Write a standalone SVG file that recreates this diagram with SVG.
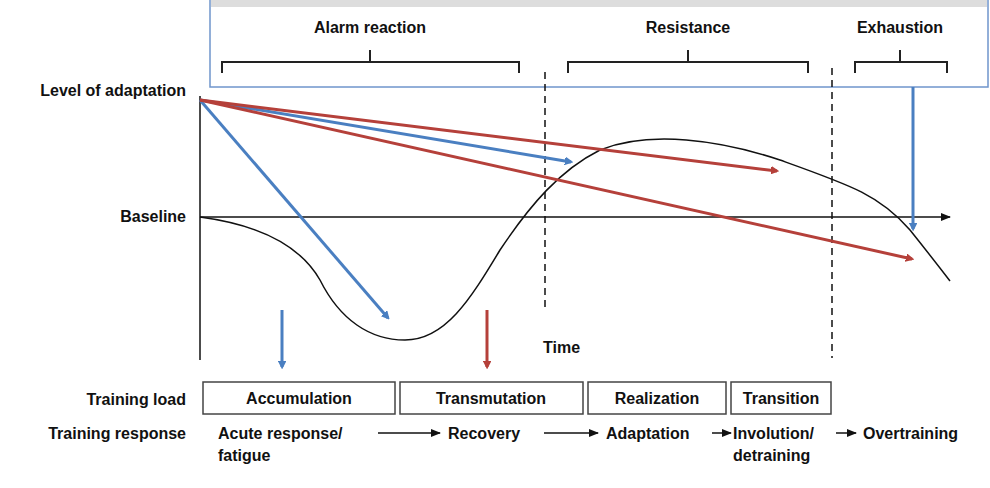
<svg xmlns="http://www.w3.org/2000/svg" width="990" height="488" viewBox="0 0 990 488">
<style>
text{font-family:"Liberation Sans",Arial,sans-serif;font-size:16px;font-weight:bold;fill:#111}
.br{fill:none;stroke:#222;stroke-width:2}
.bx{fill:#fff;stroke:#444;stroke-width:1.5}
.blue{stroke:#4a7fc1;stroke-width:3;fill:none}
.red{stroke:#b5403a;stroke-width:3;fill:none}
.k{stroke:#111;stroke-width:1.5;fill:none}
</style>
<defs>
<marker id="mb" markerWidth="8" markerHeight="8" refX="6" refY="4" orient="auto" markerUnits="userSpaceOnUse"><path d="M0,0 L8,4 L0,8 z" fill="#4a7fc1" transform="scale(1.3) translate(-1.5,-1)"/></marker>
<marker id="mr" markerWidth="8" markerHeight="8" refX="6" refY="4" orient="auto" markerUnits="userSpaceOnUse"><path d="M0,0 L8,4 L0,8 z" fill="#b5403a" transform="scale(1.3) translate(-1.5,-1)"/></marker>
<marker id="mk" markerWidth="10" markerHeight="10" refX="9" refY="5" orient="auto" markerUnits="userSpaceOnUse"><path d="M0,1 L10,5 L0,9 z" fill="#111"/></marker>
</defs>
<rect width="990" height="488" fill="#fff"/>
<g id="phases">
<rect x="210" y="-2" width="778" height="89" fill="#fff" stroke="#6f95cc" stroke-width="1.5"/>
<rect x="211" y="0" width="776" height="7" fill="#ddd"/>
<text x="370" y="33" text-anchor="middle">Alarm reaction</text>
<text x="688" y="33" text-anchor="middle">Resistance</text>
<text x="900" y="33" text-anchor="middle">Exhaustion</text>
<path class="br" d="M222,73 V62 H519 V73 M370,62 V50"/>
<path class="br" d="M568,73 V62 H808 V73 M688,62 V50"/>
<path class="br" d="M855,73 V62 H947 V73 M900,62 V50"/>
</g>
<g id="axes">
<text x="186" y="96" text-anchor="end">Level of adaptation</text>
<text x="186" y="222" text-anchor="end">Baseline</text>
<text x="543" y="353">Time</text>
<path class="k" d="M200,96 V360"/>
<path class="k" d="M200,217 H950" marker-end="url(#mk)"/>
<path stroke="#111" stroke-width="1.5" stroke-dasharray="7,5" d="M545,72 V312 M832,68 V358"/>
<path class="k" d="M200,217 C260,225 300,245 320,280 C340,320 370,340 405,340 C445,340 470,300 500,250 C530,205 560,170 600,150 C650,130 720,140 780,160 C850,185 880,195 910,230 C930,255 940,268 950,281"/>
</g>
<g id="connectors">
<path class="blue" d="M200,100 L388,318" marker-end="url(#mb)"/>
<path class="blue" d="M200,100 L571,162" marker-end="url(#mb)"/>
<path class="red" d="M200,100 L777,171" marker-end="url(#mr)"/>
<path class="red" d="M200,100 L912,259" marker-end="url(#mr)"/>
<path class="blue" d="M913,87 V229" marker-end="url(#mb)"/>
<path class="blue" d="M282,310 V367" marker-end="url(#mb)"/>
<path class="red" d="M487,310 V367" marker-end="url(#mr)"/>
</g>
<g id="load">
<text x="186" y="405" text-anchor="end">Training load</text>
<rect class="bx" x="203" y="382" width="192" height="32"/><text x="299" y="404" text-anchor="middle">Accumulation</text>
<rect class="bx" x="400" y="382" width="183" height="32"/><text x="491" y="404" text-anchor="middle">Transmutation</text>
<rect class="bx" x="588" y="382" width="138" height="32"/><text x="657" y="404" text-anchor="middle">Realization</text>
<rect class="bx" x="731" y="382" width="100" height="32"/><text x="781" y="404" text-anchor="middle">Transition</text>
</g>
<g id="response">
<text x="186" y="439" text-anchor="end">Training response</text>
<text x="218" y="439">Acute response/</text>
<text x="218" y="461">fatigue</text>
<path class="k" d="M378,433 H440" marker-end="url(#mk)"/>
<text x="448" y="439">Recovery</text>
<path class="k" d="M544,433 H598" marker-end="url(#mk)"/>
<text x="606" y="439">Adaptation</text>
<path class="k" d="M712,433 H731" marker-end="url(#mk)"/>
<text x="733" y="439">Involution/</text>
<text x="733" y="461">detraining</text>
<path class="k" d="M836,433 H856" marker-end="url(#mk)"/>
<text x="863" y="439">Overtraining</text>
</g>
</svg>
